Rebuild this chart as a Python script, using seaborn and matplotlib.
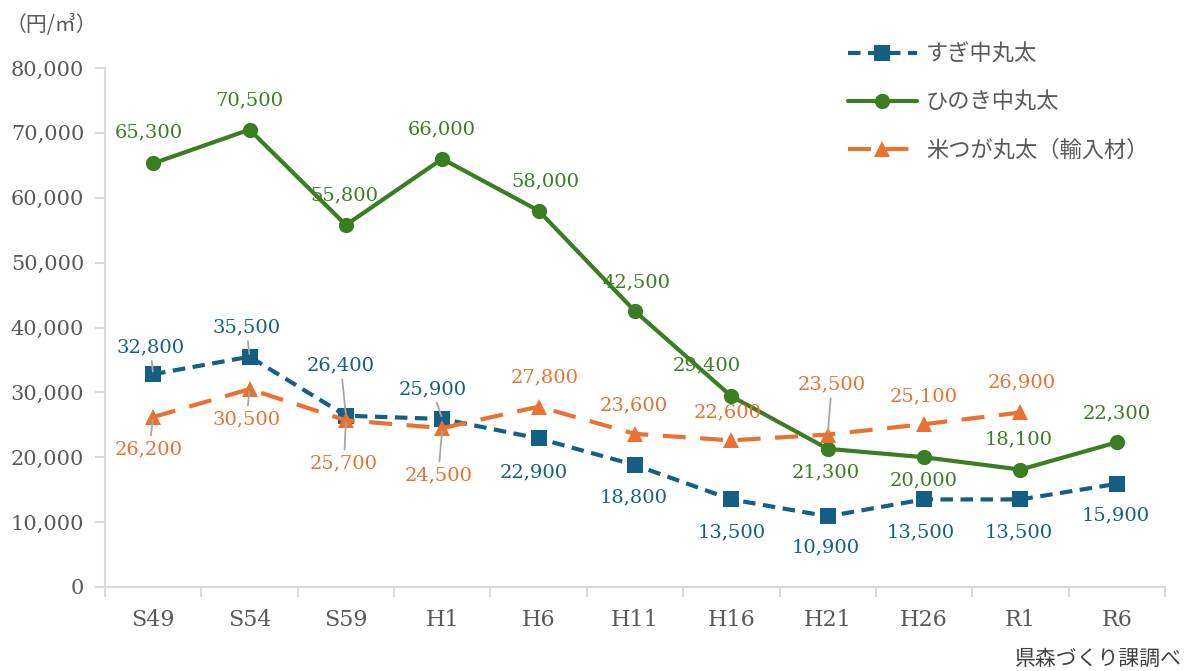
import matplotlib
matplotlib.use("Agg")
import matplotlib.pyplot as plt
import seaborn as sns
import pandas as pd
import numpy as np

# Log prices by year (円/㎥)
years = ["S49", "S54", "S59", "H1", "H6", "H11", "H16", "H21", "H26", "R1", "R6"]
sugi = [32800, 35500, 26400, 25900, 22900, 18800, 13500, 10900, 13500, 13500, 15900]
hinoki = [65300, 70500, 55800, 66000, 58000, 42500, 29400, 21300, 20000, 18100, 22300]
beitsuga = [26200, 30500, 25700, 24500, 27800, 23600, 22600, 23500, 25100, 26900, np.nan]
series_names = ["すぎ中丸太", "ひのき中丸太", "米つが丸太（輸入材）"]

sns.set_theme(style="white")
plt.rcParams["font.family"] = ["Noto Sans CJK JP", "DejaVu Sans"]

BLUE = "#156082"
GREEN = "#3B7D23"
ORANGE = "#E97132"
GREY_TXT = "#595959"
AXIS = "#D9D9D9"
LEADER = "#A6A6A6"
NUMFONT = "DejaVu Serif"

fig = plt.figure(figsize=(11.93, 6.71), dpi=100)
ax = fig.add_axes([105 / 1193, (671 - 587) / 671, (1165 - 105) / 1193, (587 - 68) / 671])

idx = np.arange(len(years))
df = pd.DataFrame({"idx": idx, "sugi": sugi, "hinoki": hinoki, "beitsuga": beitsuga})

sns.lineplot(data=df, x="idx", y="sugi", ax=ax, color=BLUE, lw=3, marker="s",
             markersize=11, markeredgewidth=0, label=series_names[0])
sns.lineplot(data=df, x="idx", y="hinoki", ax=ax, color=GREEN, lw=3, marker="o",
             markersize=11, markeredgewidth=0, label=series_names[1])
sns.lineplot(data=df.dropna(), x="idx", y="beitsuga", ax=ax, color=ORANGE, lw=3, marker="^",
             markersize=12, markeredgewidth=0, label=series_names[2])
lines = ax.get_lines()
lines[0].set_dashes((3, 1.8))
lines[2].set_dashes((5.5, 3.5))

ax.set_xlim(-0.5, len(years) - 0.5)
ax.set_ylim(0, 80000)
ax.set_xlabel("")
ax.set_ylabel("")

# axes styling
for s in ["top", "right"]:
    ax.spines[s].set_visible(False)
for s in ["left", "bottom"]:
    ax.spines[s].set_color(AXIS)
    ax.spines[s].set_linewidth(1.5)

ax.set_yticks(np.arange(0, 80001, 10000))
ax.set_yticklabels([f"{v:,}" for v in range(0, 80001, 10000)],
                   fontfamily=NUMFONT, fontsize=15, color=GREY_TXT)
ax.tick_params(axis="y", length=7, width=1.5, color=AXIS, pad=8, left=True)

ax.set_xticks(np.arange(-0.5, len(years), 1.0))
ax.set_xticklabels([])
ax.tick_params(axis="x", length=7, width=1.5, color=AXIS, bottom=True)
ax.set_xticks(idx, minor=True)
ax.set_xticklabels(years, minor=True, fontfamily=NUMFONT, fontsize=16, color=GREY_TXT)
ax.tick_params(axis="x", which="minor", length=0, pad=16)

# value labels: (offset x px, offset y px, leader line)
blue_off = [(-3, -27, True), (-3, -29, True), (-5, -50, True), (-10, -30, True), (-5, 34, False),
            (-1, 32, False), (0, 33, False), (-2, 31, False), (-3, 33, False), (-2, 33, False), (-1, 32, False)]
green_off = [(-4, -31, False), (0, -29, False), (-2, -30, False), (-1, -29, False), (7, -29, False),
             (1, -29, False), (-25, -31, False), (-2, 24, False), (0, 23, False), (-2, -30, False), (0, -29, False)]
orange_off = [(-4, 32, True), (-3, 30, True), (-2, 43, True), (-4, 47, True), (6, -29, False),
              (-1, -29, False), (-4, -28, False), (4, -50, True), (0, -28, False), (1, -30, False), None]

def label_series(vals, offs, color):
    for i, (v, off) in enumerate(zip(vals, offs)):
        if off is None or pd.isna(v):
            continue
        dx, dy, lead = off
        kw = {}
        if lead:
            kw["arrowprops"] = dict(arrowstyle="-", color=LEADER, lw=1.3, shrinkA=1, shrinkB=2)
        ax.annotate(f"{int(v):,}", xy=(i, v), xytext=(dx, -dy), textcoords="offset pixels",
                    ha="center", va="center", fontfamily=NUMFONT, fontsize=14,
                    color=color, **kw)

label_series(sugi, blue_off, BLUE)
label_series(hinoki, green_off, GREEN)
label_series(beitsuga, orange_off, ORANGE)

leg = ax.legend(loc="upper left", bbox_to_anchor=(828 / 1193, 1 - 23 / 671),
                bbox_transform=fig.transFigure, frameon=False, fontsize=16,
                handlelength=3.1, handletextpad=0.4, labelspacing=1.12)
for t in leg.get_texts():
    t.set_color(GREY_TXT)

fig.text(6 / 1193, 1 - 25 / 671, "（円/㎥）", ha="left", va="center", fontsize=15, color=GREY_TXT)
fig.text(1182 / 1193, 1 - 659 / 671, "県森づくり課調べ", ha="right", va="center", fontsize=15,
         color="#404040")

fig.savefig("out.png", dpi=100)
